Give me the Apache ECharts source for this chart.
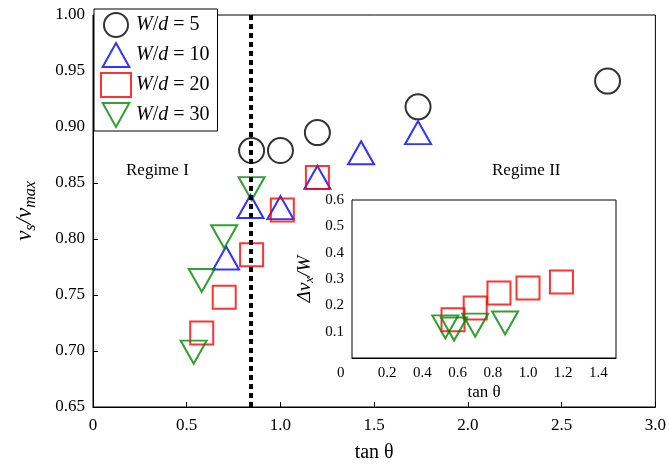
<!DOCTYPE html>
<html><head><meta charset="utf-8">
<script src="https://cdn.jsdelivr.net/npm/echarts@6/dist/echarts.min.js"></script>
<style>body{margin:0}#c{width:669px;height:470px}</style></head>
<body><div id="c"></div>
<script>
var circ5 = [[0.846,0.879],[1.0,0.879],[1.197,0.895],[1.734,0.918],[2.745,0.941]];
var tri10 = [[0.71,0.783],[0.84,0.829],[1.0,0.828],[1.197,0.855],[1.43,0.877],[1.734,0.895]];
var sq20 = [[0.58,0.716],[0.70,0.748],[0.846,0.786],[1.01,0.826],[1.197,0.855]];
var dtri30 = [[0.537,0.699],[0.58,0.763],[0.70,0.802],[0.846,0.845]];
var insetSq = [[0.574,0.145],[0.70,0.19],[0.835,0.247],[1.0,0.266],[1.19,0.289]];
var insetTri = [[0.53,0.118],[0.58,0.11],[0.70,0.125],[0.87,0.133]];
var critX = 0.84;

var F = 'Liberation Serif';
var down = 'path://M0,0 L10,0 L5,9 Z';
var up = 'path://M5,0 L10,9 L0,9 Z';
function mk(name, data, sym, size, col, xi, yi) {
  return {name: name, type: 'scatter', data: data, xAxisIndex: xi, yAxisIndex: yi,
    symbol: sym, symbolSize: size,
    itemStyle: {color: 'rgba(0,0,0,0)', borderColor: col, borderWidth: 2}};
}
var chart = echarts.init(document.getElementById('c'));
var axCommon = {axisLine: {lineStyle: {color: '#000'}}, axisTick: {inside: true, lineStyle: {color: '#000'}},
  splitLine: {show: false}, axisLabel: {color: '#000', fontFamily: F}};
chart.setOption({
  animation: false,
  grid: [{left: 93, right: 12, top: 15, bottom: 63, show: true, borderColor: '#000', backgroundColor: 'transparent'},
         {left: 352, top: 200, width: 264, height: 158, show: true, borderColor: '#000', backgroundColor: '#fff', z: 5}],
  xAxis: [
    Object.assign({}, axCommon, {gridIndex: 0, min: 0, max: 3, interval: 0.5, name: 'tan θ', nameLocation: 'middle', nameGap: 36,
      nameTextStyle: {fontFamily: F, fontSize: 20, color: '#000'},
      axisLabel: {color: '#000', fontFamily: F, fontSize: 17, margin: 10,
        formatter: function (v) { return v === 0 ? '0' : v.toFixed(1); }}}),
    Object.assign({}, axCommon, {gridIndex: 1, min: 0, max: 1.5, interval: 0.2, name: 'tan θ', nameLocation: 'middle', nameGap: 26,
      nameTextStyle: {fontFamily: F, fontSize: 17, color: '#000'},
      axisLabel: {color: '#000', fontFamily: F, fontSize: 15, margin: 8, showMaxLabel: false,
        formatter: function (v) { return v === 0 ? '0      ' : v.toFixed(1); }}})
  ],
  yAxis: [
    Object.assign({}, axCommon, {gridIndex: 0, min: 0.65, max: 1.0, interval: 0.05, name: '{i|v}{s|s}{i|/v}{s|max}',
      nameLocation: 'middle', nameGap: 54,
      nameTextStyle: {fontSize: 23, fontFamily: F, color: '#000', rich: {i: {fontFamily: F, fontStyle: 'italic', fontSize: 23, color: '#000'},
                             s: {fontFamily: F, fontStyle: 'italic', fontSize: 16, color: '#000', padding: [12, 0, 0, 0]}}},
      axisLabel: {color: '#000', fontFamily: F, fontSize: 17, formatter: function (v) { return v.toFixed(2); }}}),
    Object.assign({}, axCommon, {gridIndex: 1, min: 0, max: 0.6, interval: 0.1, name: '{n|Δv}{s|x}{n|/W}',
      nameLocation: 'middle', nameGap: 36,
      nameTextStyle: {fontSize: 19, fontFamily: F, color: '#000', rich: {n: {fontFamily: F, fontStyle: 'italic', fontSize: 19, color: '#000'},
                             s: {fontFamily: F, fontStyle: 'italic', fontSize: 13, color: '#000', padding: [10, 0, 0, 0]}}},
      axisLabel: {color: '#000', fontFamily: F, fontSize: 15, showMinLabel: false, formatter: function (v) { return v.toFixed(1); }}})
  ],
  legend: {left: 94, top: 9, orient: 'vertical', itemGap: 4, itemWidth: 30, itemHeight: 24,
    borderColor: '#000', borderWidth: 1, padding: [3, 8, 3, 6], backgroundColor: '#fff',
    data: ['W/d = 5', 'W/d = 10', 'W/d = 20', 'W/d = 30'],
    formatter: function (n) { return '{i|W}/{i|d} = ' + n.split('= ')[1]; },
    textStyle: {fontFamily: F, fontSize: 20, color: '#000', rich: {i: {fontFamily: F, fontStyle: 'italic', fontSize: 20}}}},
  graphic: [
    {type: 'text', left: 126, top: 162, style: {text: 'Regime I', font: '17px "Liberation Serif"', fill: '#000'}},
    {type: 'text', left: 492, top: 162, style: {text: 'Regime II', font: '17px "Liberation Serif"', fill: '#000'}}
  ],
  series: [
    Object.assign(mk('W/d = 5', circ5, 'circle', 25, '#000', 0, 0), {
      markLine: {silent: true, symbol: 'none', label: {show: false},
        lineStyle: {color: '#000', type: [5, 4], width: 4}, data: [{xAxis: critX}]}}),
    mk('W/d = 10', tri10, up, [26, 23], '#00f', 0, 0),
    mk('W/d = 20', sq20, 'rect', 23, '#f00', 0, 0),
    mk('W/d = 30', dtri30, down, [26, 23], '#080', 0, 0),
    Object.assign(mk('in20', insetSq, 'rect', 23, '#f00', 1, 1), {z: 6}),
    Object.assign(mk('in30', insetTri, down, [26, 23], '#080', 1, 1), {z: 6})
  ]
});
</script></body></html>
